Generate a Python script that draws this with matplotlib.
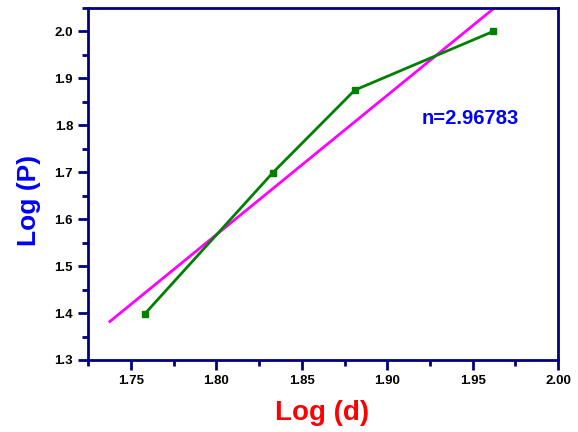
import numpy as np
import matplotlib
matplotlib.use('Agg')
import matplotlib.pyplot as plt
from matplotlib.ticker import MultipleLocator

plt.rcParams['font.family'] = ['Liberation Sans', 'DejaVu Sans']

# data: log of particle size vs log of pressure
log_d = [1.758, 1.833, 1.881, 1.962]
log_p = [1.398, 1.699, 1.875, 2.000]

# linear fit shown in magenta
n_slope = 2.96783
intercept = -3.775
fit_x = [1.7376, 1.975]

navy = '#000080'

fig = plt.figure(figsize=(5.78, 4.32), dpi=100)
ax = fig.add_axes([0.1528, 0.1667, 0.8126, 0.8148])

fx = np.array(fit_x)
ax.plot(fx, n_slope * fx + intercept, color='#ff00ff', lw=2)
ax.plot(log_d, log_p, color='#008000', lw=2, marker='s', ms=5,
        mfc='#008000', mec='#008000')

ax.set_xlim(1.725, 2.0)
ax.set_ylim(1.3, 2.05)
ax.xaxis.set_minor_locator(MultipleLocator(0.025))
ax.yaxis.set_minor_locator(MultipleLocator(0.05))
ax.set_xticks([1.75, 1.80, 1.85, 1.90, 1.95, 2.00])
ax.set_xticklabels(['1.75', '1.80', '1.85', '1.90', '1.95', '2.00'])
ax.set_yticks([1.3, 1.4, 1.5, 1.6, 1.7, 1.8, 1.9, 2.0])
ax.set_yticklabels(['1.3', '1.4', '1.5', '1.6', '1.7', '1.8', '1.9', '2.0'])

for s in ax.spines.values():
    s.set_color(navy)
    s.set_linewidth(2)
ax.tick_params(which='both', direction='out', color=navy, width=2,
               top=False, right=False)
ax.tick_params(which='major', length=7, labelsize=9.5, pad=4)
ax.tick_params(which='minor', length=4)
for lbl in ax.get_xticklabels() + ax.get_yticklabels():
    lbl.set_fontweight('bold')

ax.text(0.498, -0.151, 'Log (d)', transform=ax.transAxes, color='red',
        fontsize=20, fontweight='bold', ha='center', va='center')
ax.text(-0.1255, 0.452, 'Log (P)', transform=ax.transAxes, color='#0000ff',
        fontsize=19, fontweight='bold', ha='center', va='center', rotation=90)
ax.text(1.9485, 1.8156, 'n=2.96783', color='#0000ff', fontsize=14.5,
        fontweight='bold', ha='center', va='center')

fig.savefig('out.png', dpi=100)
